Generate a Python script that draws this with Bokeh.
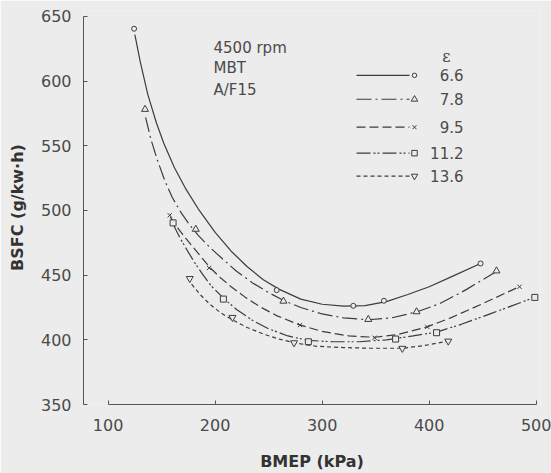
from bokeh.plotting import figure
from bokeh.models import Range1d, FixedTicker, Label
from bokeh.embed import file_html
from bokeh.resources import INLINE

# ---------------- data ----------------
eps_labels = ["6.6", "7.8", "9.5", "11.2", "13.6"]

# measured points (markers)
bmep_66 = [124.3, 257.5, 329.1, 357.7, 448.0]
bsfc_66 = [640.5, 438.4, 426.3, 430.2, 459.0]
bmep_78 = [134.5, 181.9, 263.8, 343.1, 388.2, 462.9]
bsfc_78 = [578.2, 485.5, 429.9, 415.8, 421.7, 453.3]
bmep_95 = [157.6, 194.3, 279.3, 349.0, 398.2, 484.4]
bsfc_95 = [496.3, 455.6, 411.4, 401.6, 410.0, 441.0]
bmep_112 = [160.7, 207.7, 287.1, 368.6, 406.9, 498.7]
bsfc_112 = [490.4, 431.5, 398.5, 400.6, 405.5, 432.8]
bmep_136 = [176.3, 216.2, 273.7, 374.9, 417.8]
bsfc_136 = [447.4, 417.3, 397.7, 393.4, 399.0]

# fitted curves
curve_x_66 = [125, 130, 137, 145, 152, 162, 172, 184, 200, 215, 230, 245, 260, 280, 300, 320, 340, 360, 380, 400, 420, 448]
curve_y_66 = [636, 615, 590, 568, 552, 533, 517.5, 501.5, 483, 468.5, 456.5, 446.5, 439, 431.5, 427.5, 426, 426.5, 429.5, 435, 441, 448.5, 459]
curve_x_78 = [135, 140, 146, 153, 160, 168, 176, 184, 195, 205, 220, 235, 250, 265, 280, 300, 320, 343, 365, 388, 410, 435, 463]
curve_y_78 = [572, 555, 539, 523, 510, 498.5, 489, 481, 471.5, 464, 453, 444, 436.5, 430, 425, 420, 417, 415.5, 417, 421.5, 428, 439, 453]
curve_x_95 = [158, 165, 172, 180, 188, 195, 205, 215, 228, 242, 258, 279, 300, 325, 349, 370, 398, 420, 450, 484]
curve_y_95 = [495, 486.5, 479, 471, 463, 456, 448, 441, 433, 425.5, 418.5, 411.5, 406.5, 403, 402, 404, 410, 417, 428, 441]
curve_x_112 = [161, 167, 174, 181, 188, 196, 208, 220, 235, 250, 268, 287, 310, 335, 360, 385, 407, 430, 460, 499]
curve_y_112 = [489, 479, 469, 459.5, 451, 442, 432, 423.5, 415, 408.5, 403, 399.5, 398.5, 398.5, 400, 403, 406, 412, 421, 433]
curve_x_136 = [178, 186, 195, 205, 216, 230, 245, 260, 275, 295, 320, 345, 375, 395, 418]
curve_y_136 = [443, 435, 427.5, 421, 415.5, 409.5, 404.5, 400.5, 397.5, 395, 394, 393.5, 393.5, 395.5, 399]

x_ticks = [100, 200, 300, 400, 500]
y_ticks = [350, 400, 450, 500, 550, 600, 650]

# ---------------- styling / layout ----------------
BG = "#ececec"
INK = "#3c3c3c"
TXT = "#4a4a4a"
FONT = "DejaVu Sans"

W, H = 551, 473
X0, X1 = 77, 504
Y0, Y1 = 350, 654.6
FRAME_L, FRAME_W = 83, 457      # canvas px
FRAME_T, FRAME_H = 10, 395
FRAME_B = FRAME_T + FRAME_H


def dx(px):
    return X0 + (px - FRAME_L) * (X1 - X0) / FRAME_W


def dy(py):
    return Y0 + (FRAME_B - py) * (Y1 - Y0) / FRAME_H


p = figure(width=W, height=H,
           x_range=Range1d(X0, X1), y_range=Range1d(Y0, Y1),
           output_backend="svg", toolbar_location=None,
           min_border_left=FRAME_L, min_border_right=W - FRAME_L - FRAME_W,
           min_border_top=FRAME_T, min_border_bottom=H - FRAME_B,
           background_fill_color=BG, border_fill_color=BG,
           outline_line_color=None)
p.grid.visible = False

for ax in (p.xaxis[0], p.yaxis[0]):
    ax.axis_line_color = "#555555"
    ax.axis_line_width = 1
    ax.major_tick_line_color = "#555555"
    ax.major_tick_in = 4
    ax.major_tick_out = 0
    ax.minor_tick_line_color = None
    ax.major_label_text_font = FONT
    ax.major_label_text_font_size = "16px"
    ax.major_label_text_color = TXT
    ax.axis_label_text_font = FONT
    ax.axis_label_text_font_style = "bold"
    ax.axis_label_text_font_size = "16px"
    ax.axis_label_text_color = "#333333"

p.xaxis.ticker = FixedTicker(ticks=x_ticks)
p.yaxis.ticker = FixedTicker(ticks=y_ticks)
p.xaxis.bounds = (100, 500)
p.yaxis.bounds = (350, 650)
p.xaxis.axis_label = "BMEP (kPa)"
p.yaxis.axis_label = "BSFC (g/kw·h)"
p.xaxis.major_label_standoff = 14
p.xaxis.axis_label_standoff = 18
p.yaxis.major_label_standoff = 12
p.yaxis.axis_label_standoff = 11

series = [
    (curve_x_66, curve_y_66, bmep_66, bsfc_66, "solid", "circle", 5),
    (curve_x_78, curve_y_78, bmep_78, bsfc_78, "15 4 2 4", "triangle", 7),
    (curve_x_95, curve_y_95, bmep_95, bsfc_95, "9 4", "x", 6),
    (curve_x_112, curve_y_112, bmep_112, bsfc_112, "14 3 2 2 2 3", "square", 6),
    (curve_x_136, curve_y_136, bmep_136, bsfc_136, "4 3", "inverted_triangle", 7),
]

for cx, cy, mx, my, dash, marker, size in series:
    p.line(cx, cy, line_color=INK, line_width=1.2, line_dash=dash)
    p.scatter(mx, my, marker=marker, size=size, line_color=INK,
              line_width=1, fill_color=BG)

# ---------------- manual legend ----------------
row_px = [75, 99, 127, 153, 176]
for (cx, cy, mx, my, dash, marker, size), lab, ry in zip(series, eps_labels, row_px):
    yv = dy(ry)
    p.line([dx(356), dx(409)], [yv, yv], line_color=INK, line_width=1.2,
           line_dash=dash)
    p.scatter([dx(414)], [yv], marker=marker, size=size - 0.5, line_color=INK,
              line_width=1, fill_color=BG)
    p.add_layout(Label(x=dx(463), y=yv, text=lab, text_align="right",
                       text_baseline="middle", text_font=FONT,
                       text_font_size="15px", text_color=TXT))

p.add_layout(Label(x=dx(446), y=dy(56), text="ε", text_align="center",
                   text_baseline="middle", text_font="DejaVu Serif",
                   text_font_size="16px", text_color=TXT))

for txt, ry in zip(["4500 rpm", "MBT", "A/F15"], [48, 68, 90]):
    p.add_layout(Label(x=dx(213), y=dy(ry), text=txt, text_align="left",
                       text_baseline="middle", text_font=FONT,
                       text_font_size="15px", text_color=TXT))

open("out.html", "w").write(file_html(p, INLINE))
